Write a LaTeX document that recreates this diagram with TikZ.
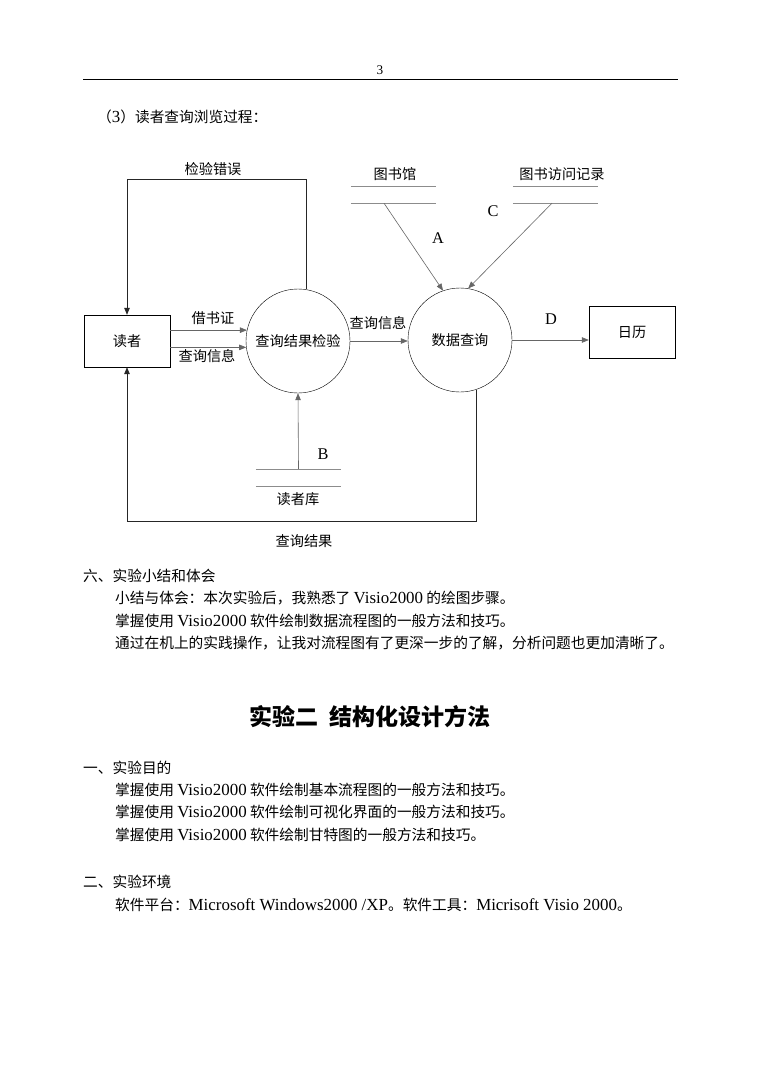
\documentclass[tikz,border=0pt]{standalone}
\usepackage{fontspec}
\setmainfont{Noto Sans CJK SC}
\newfontfamily\lat[Scale=1.15]{Liberation Serif}
\usetikzlibrary{arrows.meta}

\begin{document}
\begin{tikzpicture}[x=1pt, y=-1pt, font=\fontsize{14.2}{17}\selectfont,
    proc/.style={circle, draw, minimum size=104pt, inner sep=0pt},
    ent/.style={rectangle, draw, minimum width=86pt, minimum height=52pt},
    store/.style={minimum width=85pt, minimum height=17pt, inner sep=0pt},
    flow/.style={-{Triangle[length=7pt,width=5.5pt]}, black!60, line width=0.6pt},
    loop/.style={-{Triangle[length=7pt,width=5.5pt]}, black!85, line width=0.7pt},
    lbl/.style={inner sep=1pt},
    txt/.style={anchor=west, inner sep=0pt, font=\fontsize{14.7}{17}\selectfont}]

        \useasboundingbox[fill=white] (0,0) rectangle (761,1075);

        % 页眉
        \node[lbl] (pg) at (380,70) {\lat\fontsize{11.5}{14}\selectfont 3};
        \draw[line width=0.8pt] (83,79) coordinate (hl) -- (678,79) coordinate (hr);
        \node[txt] (sub) at (97,117) {（{\lat 3}）读者查询浏览过程：};

        % 节点
        \node[ent] (reader) at (127,341) {读者};
        \node[proc] (check) at (298,341) {查询结果检验};
        \node[proc] (query) at (460,340) {数据查询};
        \node[ent] (cal) at (632,332) {日历};

        % 数据存储
        \node[store] (lib) at (393.5,194.5) {};
        \node[store] (rec) at (555.5,194.5) {};
        \node[store] (rdb) at (298.5,477.5) {};
        \foreach \s in {lib, rec, rdb} {
            \draw[black!45] (\s.north west) -- (\s.north east);
            \draw[black!45] (\s.south west) -- (\s.south east);
        }
        \node[lbl] (libname) at (395,174) {图书馆};
        \node[lbl] (recname) at (562,174) {图书访问记录};
        \node[lbl] (rdbname) at (298,499) {读者库};

        % 数据流
        \draw[flow] (reader.east |- check.168) -- (check.168);
        \draw[flow] (reader.east |- check.187) -- (check.187);
        \draw[flow] (check.east) -- (query.west |- check.east);
        \draw[flow] (query.east) -- (cal.west |- query.east);
        \draw[flow] ([xshift=-9.5pt]lib.south) -- (query.109);
        \draw[flow] ([xshift=-3.5pt]rec.south) -- (query.81);
        \draw[flow] (rdb.north) -- (check.south);

        % 回路
        \coordinate (errtop) at (127,179);
        \coordinate (resbot) at (127,521);
        \draw[loop] (check.81) |- (errtop) -- (reader.north);
        \draw[loop] (query.288) |- (resbot) -- (reader.south);

        % 标签
        \node[lbl] (err) at (213,169) {检验错误};
        \node[lbl] (card) at (213,318) {借书证};
        \node[lbl] (info1) at (207,356) {查询信息};
        \node[lbl] (info2) at (378,323) {查询信息};
        \node[lbl] (res) at (304,541) {查询结果};
        \node[lbl] (la) at (438,238) {\lat A};
        \node[lbl] (lb) at (323,454) {\lat B};
        \node[lbl] (lc) at (493,211) {\lat C};
        \node[lbl] (ld) at (551,319) {\lat D};

        % 正文
        \node[txt] (t1) at (83,576) {六、实验小结和体会};
        \node[txt] (t2) at (115,598) {小结与体会：本次实验后，我熟悉了 {\lat Visio2000} 的绘图步骤。};
        \node[txt] (t3) at (115,621) {掌握使用 {\lat Visio2000} 软件绘制数据流程图的一般方法和技巧。};
        \node[txt] (t4) at (115,643) {通过在机上的实践操作，让我对流程图有了更深一步的了解，分析问题也更加清晰了。};
        \node[lbl] (title) at (370,717) {\fontsize{23}{27}\selectfont\bfseries 实验二\ \ 结构化设计方法};
        \node[txt] (t5) at (83,768) {一、实验目的};
        \node[txt] (t6) at (115,790) {掌握使用 {\lat Visio2000} 软件绘制基本流程图的一般方法和技巧。};
        \node[txt] (t7) at (115,812) {掌握使用 {\lat Visio2000} 软件绘制可视化界面的一般方法和技巧。};
        \node[txt] (t8) at (115,835) {掌握使用 {\lat Visio2000} 软件绘制甘特图的一般方法和技巧。};
        \node[txt] (t9) at (83,882) {二、实验环境};
        \node[txt] (t10) at (115,905) {软件平台：{\lat Microsoft Windows2000 /XP}。软件工具：{\lat Micrisoft Visio 2000}。};

    \end{tikzpicture}
\end{document}
